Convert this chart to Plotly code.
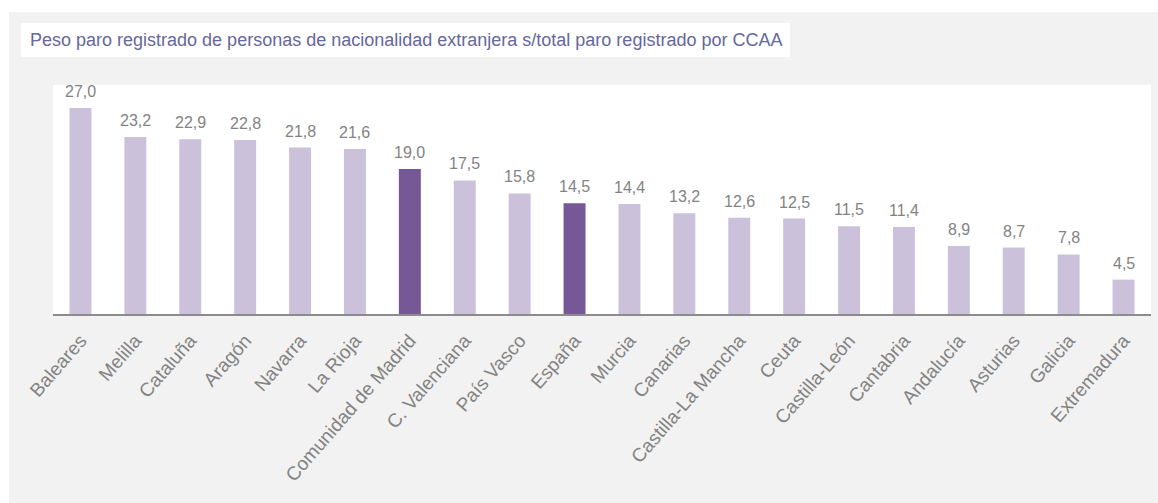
import plotly.graph_objects as go

# Paro registrado: peso de personas de nacionalidad extranjera por CCAA (%)
regiones = [
    "Baleares", "Melilla", "Cataluña", "Aragón", "Navarra", "La Rioja",
    "Comunidad de Madrid", "C. Valenciana", "País Vasco", "España", "Murcia",
    "Canarias", "Castilla-La Mancha", "Ceuta", "Castilla-León", "Cantabria",
    "Andalucía", "Asturias", "Galicia", "Extremadura",
]
peso_extranjeros = [
    27.0, 23.2, 22.9, 22.8, 21.8, 21.6,
    19.0, 17.5, 15.8, 14.5, 14.4,
    13.2, 12.6, 12.5, 11.5, 11.4,
    8.9, 8.7, 7.8, 4.5,
]
destacadas = ["Comunidad de Madrid", "España"]

titulo = ("Peso paro registrado de personas de nacionalidad extranjera "
          "s/total paro registrado por CCAA")

COLOR_BASE = "#cbc1da"
COLOR_DESTACADO = "#775896"
GRIS_TEXTO = "#838383"

W, H = 1158, 503
M_L, M_R, M_T, M_B = 53, 7, 85, 189
PW, PH = W - M_L - M_R, H - M_T - M_B


def px_x(px):
    return (px - M_L) / PW


def px_y(py):
    return (H - M_B - py) / PH


colores = [COLOR_DESTACADO if r in destacadas else COLOR_BASE for r in regiones]

fig = go.Figure(
    go.Bar(
        x=regiones,
        y=peso_extranjeros,
        marker=dict(color=colores, line=dict(width=0)),
        hoverinfo="x+y",
    )
)

# etiquetas de valor sobre cada barra
for r, v in zip(regiones, peso_extranjeros):
    fig.add_annotation(
        x=r, y=v, text=f"{v:.1f}".replace(".", ","),
        xref="x", yref="y", showarrow=False,
        yanchor="bottom", yshift=6,
        font=dict(family="Liberation Sans, Arial, sans-serif", size=16,
                  color=GRIS_TEXTO),
    )

# título dentro de su recuadro blanco
fig.add_annotation(
    x=px_x(28), y=px_y(40), xref="paper", yref="paper",
    xanchor="left", yanchor="middle", showarrow=False,
    text=titulo,
    font=dict(family="Liberation Sans, Arial, sans-serif",
              size=18, color="#66679c"),
)

shapes = [
    # franjas blancas alrededor del panel gris
    dict(type="rect", xref="paper", yref="paper", layer="below",
         x0=px_x(0), x1=px_x(W), y0=px_y(12), y1=px_y(0),
         fillcolor="white", line=dict(width=0)),
    dict(type="rect", xref="paper", yref="paper", layer="below",
         x0=px_x(0), x1=px_x(9), y0=px_y(H), y1=px_y(0),
         fillcolor="white", line=dict(width=0)),
    # recuadro del título
    dict(type="rect", xref="paper", yref="paper", layer="below",
         x0=px_x(21), x1=px_x(790), y0=px_y(57), y1=px_y(23),
         fillcolor="white", line=dict(width=0)),
]

fig.update_layout(
    width=W, height=H,
    margin=dict(l=M_L, r=M_R, t=M_T, b=M_B, autoexpand=False),
    paper_bgcolor="#f2f2f2",
    plot_bgcolor="white",
    bargap=0.6,
    showlegend=False,
    shapes=shapes,
    separators=",.",
    xaxis=dict(
        tickangle=-49,
        tickfont=dict(family="Liberation Sans, Arial, sans-serif", size=19,
                      color=GRIS_TEXTO),
        ticklabelstandoff=6,
        showline=True, linecolor="#8c8c8c", linewidth=2,
        ticks="", showgrid=False, zeroline=False,
        fixedrange=True,
    ),
    yaxis=dict(
        range=[0, 30], visible=False, showgrid=False, zeroline=False,
        fixedrange=True,
    ),
)

fig.write_html("out.html", config={"displayModeBar": False})
